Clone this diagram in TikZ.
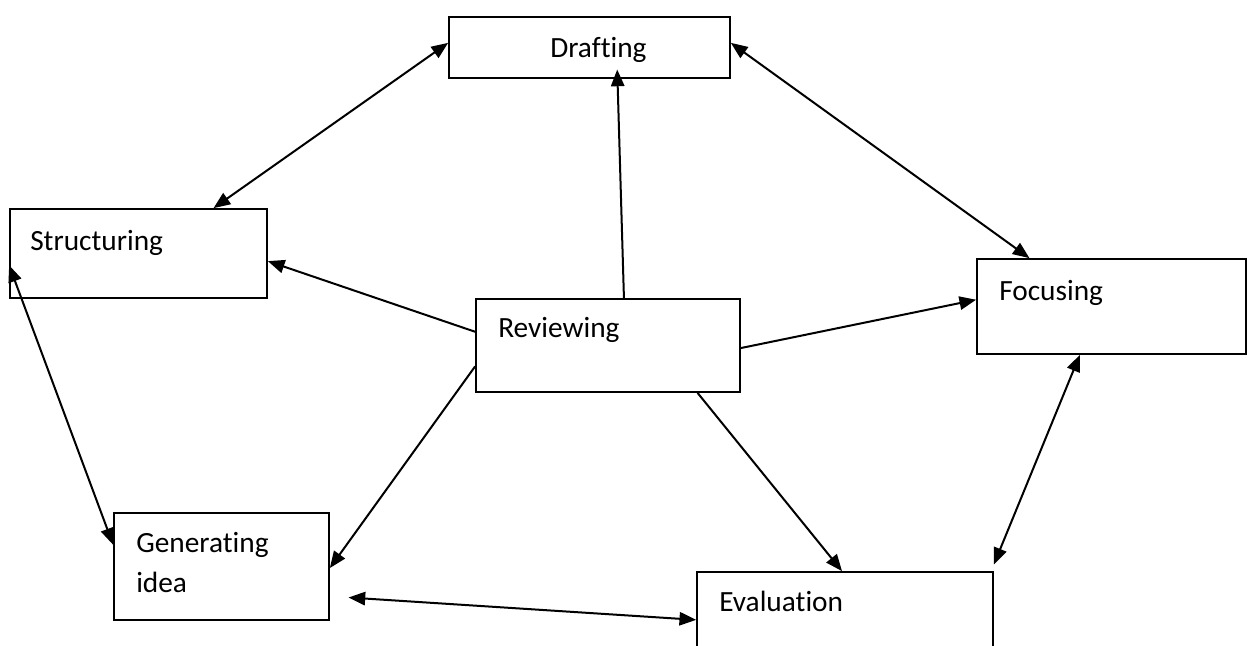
\documentclass[tikz,border=0pt]{standalone}
\usepackage{fontspec}
\setmainfont[Ligatures={NoCommon}]{Carlito}
\usetikzlibrary{arrows.meta,fit,calc}
\tikzset{
  box/.style={draw=black, line width=1.3pt, inner sep=0pt, fill=white},
  lbl/.style={inner sep=0pt, font=\fontsize{22pt}{26pt}\selectfont, text=black},
  conn/.style={line width=1.5pt, -{Triangle[length=12.5pt,width=10pt]}},
  dconn/.style={line width=1.5pt, {Triangle[length=12.5pt,width=10pt]}-{Triangle[length=12.5pt,width=10pt]}}
}
\begin{document}
\begin{tikzpicture}[x=0.75pt,y=-0.75pt]
\clip (0,0) rectangle (1247,646);
\fill[white] (0,0) rectangle (1247,646);
% boxes
\node[box, fit={(449,17) (730,78)}] (draft) {};
\node[box, fit={(10,209) (267,298)}] (struct) {};
\node[box, fit={(476,299) (740,392)}] (rev) {};
\node[box, fit={(977,259) (1246,354)}] (focus) {};
\node[box, fit={(114,513) (329,620)}] (gen) {};
\node[box, fit={(697,572) (993,680)}] (eval) {};
% labels
\node[lbl, anchor=base west] (tdraft) at (550,57) {Drafting};
\node[lbl, anchor=base west] (tstruct) at (30,250) {Structuring};
\node[lbl, anchor=base west] (trev) at (498,337) {Reviewing};
\node[lbl, anchor=base west] (tfocus) at (999,300) {Focusing};
\node[lbl, anchor=base west] (tgen1) at (136,552) {Generating};
\node[lbl, anchor=base west] (tgen2) at (136,592) {idea};
\node[lbl, anchor=base west] (teval) at (719,611) {Evaluation};
% connector end points on box borders
\coordinate (dW) at ($(draft.north west)!0.426!(draft.south west)$);
\coordinate (dE) at ($(draft.north east)!0.426!(draft.south east)$);
\coordinate (dS) at ([yshift=7pt]$(draft.south west)!0.598!(draft.south east)$);
\coordinate (sN) at ($(struct.north west)!0.79!(struct.north east)$);
\coordinate (sE) at ($(struct.north east)!0.584!(struct.south east)$);
\coordinate (sW) at ($(struct.north west)!0.63!(struct.south west)$);
\coordinate (fN) at ($(focus.north west)!0.197!(focus.north east)$);
\coordinate (fW) at ($(focus.north west)!0.43!(focus.south west)$);
\coordinate (fS) at ($(focus.south west)!0.383!(focus.south east)$);
\coordinate (rN) at ($(rev.north west)!0.56!(rev.north east)$);
\coordinate (rW1) at ($(rev.north west)!0.355!(rev.south west)$);
\coordinate (rW2) at ($(rev.north west)!0.72!(rev.south west)$);
\coordinate (rE) at ($(rev.north east)!0.527!(rev.south east)$);
\coordinate (rS) at ($(rev.south west)!0.837!(rev.south east)$);
\coordinate (gW) at ($(gen.north west)!0.3!(gen.south west)$);
\coordinate (gE) at ($(gen.north east)!0.514!(gen.south east)$);
\coordinate (gE2) at ([xshift=14pt]$(gen.north east)!0.785!(gen.south east)$);
\coordinate (eN) at ($(eval.north west)!0.49!(eval.north east)$);
\coordinate (eW) at ($(eval.north west)!0.444!(eval.south west)$);
\coordinate (eNE) at ([yshift=5pt]eval.north east);
% connectors
\draw[dconn] (sN) -- (dW);
\draw[dconn] (dE) -- (fN);
\draw[conn] (rN) -- (dS);
\draw[conn] (rW1) -- (sE);
\draw[conn] (rE) -- (fW);
\draw[conn] (rW2) -- (gE);
\draw[conn] (rS) -- (eN);
\draw[dconn] (sW) -- (gW);
\draw[dconn] (gE2) -- (eW);
\draw[dconn] (fS) -- (eNE);
\end{tikzpicture}
\end{document}
